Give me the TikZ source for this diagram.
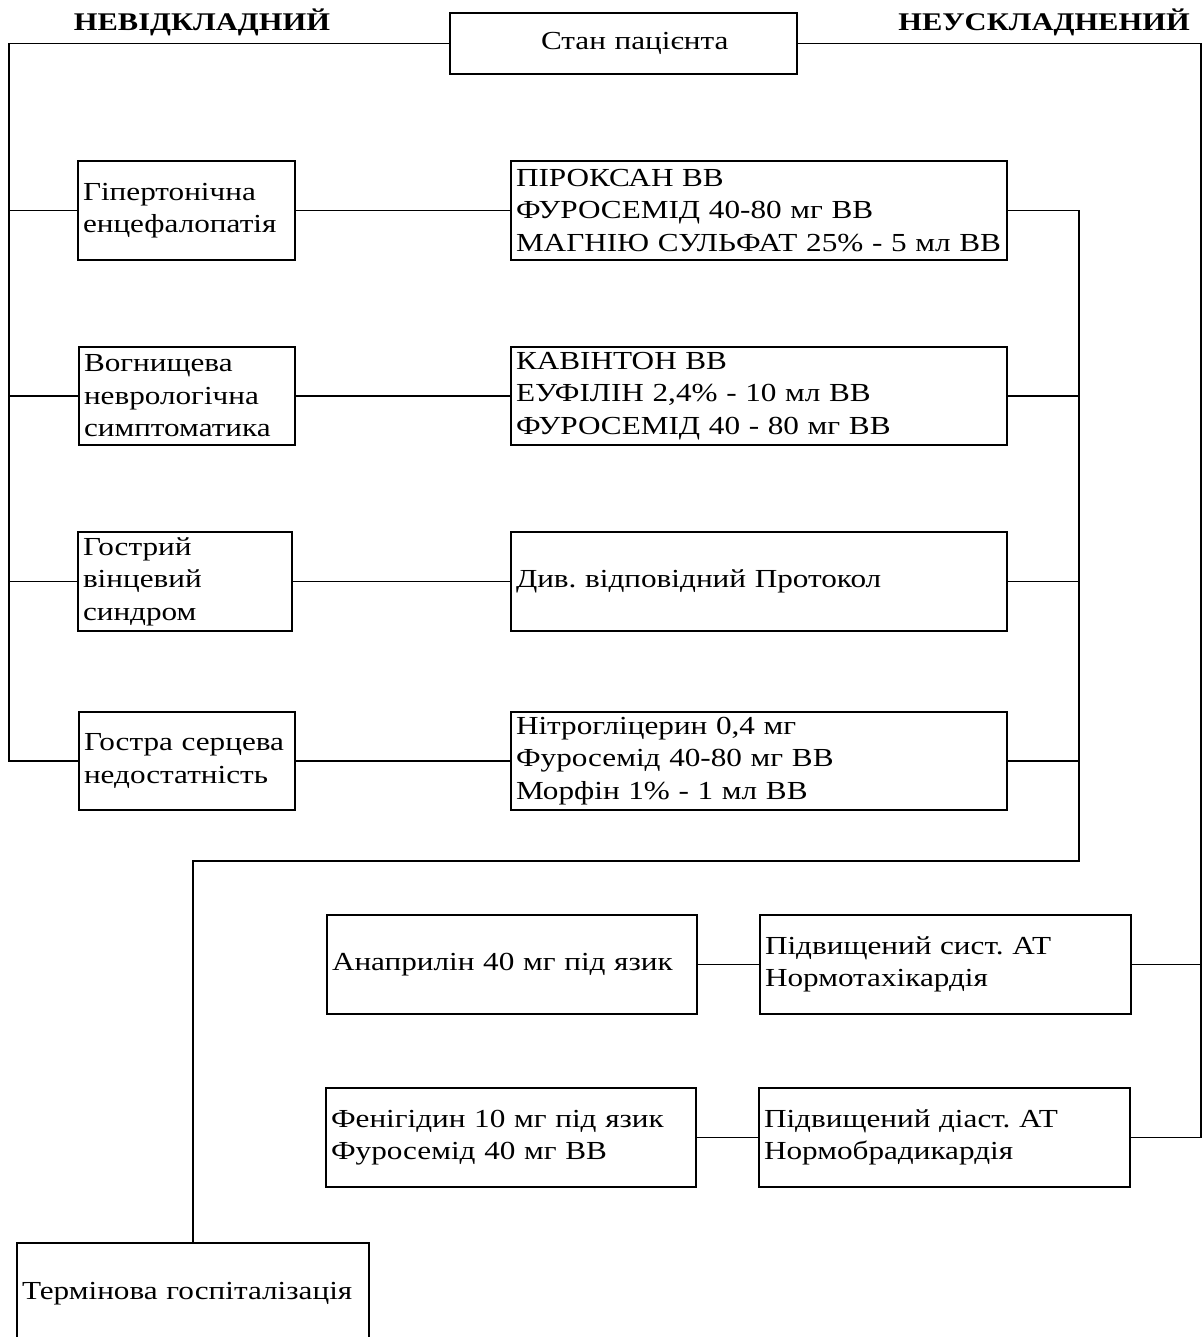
\documentclass[tikz,border=0pt]{standalone}
\usepackage{fontspec}
\setmainfont{Liberation Serif}[FakeStretch=1.2]
\begin{document}
\frenchspacing
\begin{tikzpicture}[x=1pt,y=-1pt,
  box/.style={draw, line width=1.5pt, inner xsep=5pt, inner ysep=0pt,
    align=left, font=\fontsize{26}{32.5}\selectfont},
  head/.style={font=\fontsize{25.4}{32}\selectfont\bfseries, inner sep=0pt},
  link/.style={line width=1.7pt}]
\useasboundingbox (0,0) rectangle (1203,1337);

% top
\node[box, text width=337pt, minimum height=61pt] (title) at (623.5,43.5) {\hspace*{86pt}Стан пацієнта};
\node[head] (urgent) at (202,22) {НЕВІДКЛАДНИЙ};
\node[head] (simple) at (1044,22) {НЕУСКЛАДНЕНИЙ};

% complications
\node[box, text width=207pt, minimum height=99pt] (L1) at (186.5,210.5) {Гіпертонічна\\енцефалопатія};
\node[box, text width=206pt, minimum height=98pt] (L2) at (187,396) {Вогнищева\\неврологічна\\симптоматика};
\node[box, text width=204pt, minimum height=99pt] (L3) at (185,581.5) {Гострий\\вінцевий\\синдром};
\node[box, text width=206pt, minimum height=98pt] (L4) at (187,761) {Гостра серцева\\недостатність};

% treatment
\node[box, text width=486pt, minimum height=99pt] (R1) at (759,210.5) {ПІРОКСАН ВВ\\ФУРОСЕМІД 40-80 мг ВВ\\МАГНІЮ СУЛЬФАТ 25\% - 5 мл ВВ};
\node[box, text width=486pt, minimum height=98pt] (R2) at (759,396) {КАВІНТОН ВВ\\ЕУФІЛІН 2,4\% - 10 мл ВВ\\ФУРОСЕМІД 40 - 80 мг ВВ};
\node[box, text width=486pt, minimum height=99pt] (R3) at (759,581.5) {Див. відповідний Протокол};
\node[box, text width=486pt, minimum height=98pt] (R4) at (759,761) {Нітрогліцерин 0,4 мг\\Фуросемід 40-80 мг ВВ\\Морфін 1\% - 1 мл ВВ};

% uncomplicated crisis
\node[box, text width=360pt, minimum height=99pt] (A) at (512,964.5) {Анаприлін 40 мг під язик};
\node[box, text width=361pt, minimum height=99pt] (S) at (945.5,964.5) {Підвищений сист. АТ\\Нормотахікардія};
\node[box, text width=360pt, minimum height=99pt] (F) at (511,1137.5) {Фенігідин 10 мг під язик\\Фуросемід 40 мг ВВ};
\node[box, text width=361pt, minimum height=99pt] (D) at (944.5,1137.5) {Підвищений діаст. АТ\\Нормобрадикардія};

% hospitalisation
\node[box, text width=342pt, minimum height=102pt] (T) at (193,1294) {Термінова госпіталізація};

% buses
\coordinate (lb) at (9,0);
\coordinate (mb) at (1079,861);
\coordinate (rb) at (1201,0);

\draw[link] (title.west) -- (title.west -| lb) |- (L4.west);
\foreach \n in {L1,L2,L3} \draw[link] (\n.west) -- (\n.west -| lb);
\foreach \n in {1,2,3,4} \draw[link] (L\n.east) -- (R\n.west);

\draw[link] (R1.east) -- (R1.east -| mb) -- (mb) -- (mb -| T.north) -- (T.north);
\foreach \n in {R2,R3,R4} \draw[link] (\n.east) -- (\n.east -| mb);

\draw[link] (title.east) -- (title.east -| rb) |- (D.east);
\draw[link] (S.east) -- (S.east -| rb);
\draw[link] (A) -- (S);
\draw[link] (F) -- (D);
\end{tikzpicture}
\end{document}
